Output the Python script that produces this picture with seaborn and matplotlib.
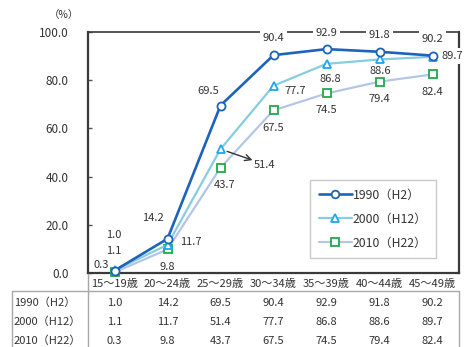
import numpy as np
import pandas as pd
import matplotlib
matplotlib.use("Agg")
import matplotlib.pyplot as plt
from matplotlib.lines import Line2D
from matplotlib.transforms import blended_transform_factory
import seaborn as sns

# Age groups and labour force participation rates (%)
ages = ["15〜19歳", "20〜24歳", "25〜29歳", "30〜34歳", "35〜39歳", "40〜44歳", "45〜49歳"]
series_names = ["1990（H2）", "2000（H12）", "2010（H22）"]
rate_1990 = [1.0, 14.2, 69.5, 90.4, 92.9, 91.8, 90.2]
rate_2000 = [1.1, 11.7, 51.4, 77.7, 86.8, 88.6, 89.7]
rate_2010 = [0.3, 9.8, 43.7, 67.5, 74.5, 79.4, 82.4]
y_ticks = [0, 20, 40, 60, 80, 100]

sns.set_theme(style="white")
plt.rcParams["font.family"] = ["Noto Sans CJK JP", "DejaVu Sans"]
TXT = "#333333"

fig = plt.figure(figsize=(4.67, 3.47), dpi=100)
ax = fig.add_axes([88 / 467, 1 - 273 / 347, (459 - 88) / 467, (273 - 32) / 347])

pos = np.arange(len(ages))
df = pd.DataFrame({
    "pos": np.tile(pos, 3),
    "rate": rate_1990 + rate_2000 + rate_2010,
    "year": np.repeat(series_names, len(ages)),
})

styles = {
    "1990（H2）": dict(color="#1d64b8", lw=1.9, marker="o", mec="#1d64b8", ms=5.8, zorder=6),
    "2000（H12）": dict(color="#86cde0", lw=1.6, marker="^", mec="#1fa6ee", ms=6.0, zorder=5),
    "2010（H22）": dict(color="#b4c6e6", lw=1.6, marker="s", mec="#22a84a", ms=5.5, zorder=4),
}
for name in series_names[::-1]:
    st = styles[name]
    sns.lineplot(data=df[df["year"] == name], x="pos", y="rate", ax=ax,
                 color=st["color"], linewidth=st["lw"], marker=st["marker"],
                 markersize=st["ms"], markerfacecolor="white",
                 markeredgecolor=st["mec"], markeredgewidth=1.3,
                 label=name, clip_on=False, zorder=st["zorder"], legend=False)

ax.set_xlim(-0.5, len(ages) - 0.5)
ax.set_ylim(0, 100)
ax.set_xlabel("")
ax.set_ylabel("")
ax.set_yticks(y_ticks)
ax.set_yticklabels([f"{v:.1f}" for v in y_ticks], fontsize=8.5, color=TXT)
ax.tick_params(axis="y", direction="in", length=3, width=1, color="#555555",
               pad=14, left=True)
ax.set_xticks(pos)
ax.set_xticklabels(ages, fontsize=8, color=TXT)
ax.tick_params(axis="x", length=0, pad=4)

for side, lw in [("left", 1.6), ("bottom", 1.6), ("top", 1.2), ("right", 1.6)]:
    ax.spines[side].set_visible(True)
    ax.spines[side].set_color("#3a3a3a")
    ax.spines[side].set_linewidth(lw)

fig.text(64 / 467, 1 - 15 / 347, "（%）", fontsize=7.5, color=TXT, ha="center", va="center")

# Value labels: offsets in pixels from each point
offs_1990 = [(-1, 36), (-15, 21), (-12, 15), (0, 17), (0, 16), (0, 17), (0, 17)]
offs_2000 = [(-1, 19), (23, 3), (44, -16), (22, -5), (4, -15), (1, -12), (20, 1)]
offs_2010 = [(-13, 7), (0, -18), (4, -17), (0, -18), (0, -17), (0, -17), (0, -18)]
boxed_1990 = [False, False, False, True, True, True, True]
callout_2000 = 2  # this label is tied to its point by an arrow

def put_label(x, v, off, boxed=False):
    kw = dict(textcoords="offset pixels", ha="center", va="center",
              fontsize=8, color=TXT, zorder=8)
    if boxed:
        kw["bbox"] = dict(boxstyle="square,pad=0.25", fc="white", ec="none")
    ax.annotate(f"{v:.1f}", xy=(x, v), xytext=off, **kw)

for i, v in enumerate(rate_1990):
    put_label(pos[i], v, offs_1990[i], boxed_1990[i])
for i, v in enumerate(rate_2000):
    put_label(pos[i], v, offs_2000[i], boxed=(i == len(ages) - 1))
    if i == callout_2000:
        ax.annotate("", xy=(pos[i], v), xytext=(32, -11),
                    textcoords="offset pixels", zorder=8,
                    arrowprops=dict(arrowstyle="<-", color="#333333", lw=1.0,
                                    shrinkA=0, shrinkB=5,
                                    mutation_scale=11))
for i, v in enumerate(rate_2010):
    put_label(pos[i], v, offs_2010[i])

# Legend
handles = [Line2D([], [], color=styles[n]["color"], lw=styles[n]["lw"],
                  marker=styles[n]["marker"], ms=5.5, mfc="white",
                  mec=styles[n]["mec"], mew=1.3) for n in series_names]
leg = ax.legend(handles, series_names, loc="upper left",
                bbox_to_anchor=((310 - 88) / 371, (273 - 180) / 241),
                fontsize=8.8, frameon=True, fancybox=False, shadow=False,
                handlelength=2.7, handletextpad=0.1, labelspacing=0.9,
                borderpad=0.7, borderaxespad=0)
leg.get_frame().set_edgecolor("#bdbdbd")
leg.get_frame().set_linewidth(1.0)
for t in leg.get_texts():
    t.set_color(TXT)
leg.set_zorder(9)

# Data table below the chart
tr = blended_transform_factory(ax.transData, fig.transFigure)
row_y = [1 - 303 / 347, 1 - 322 / 347, 1 - 341 / 347]
for name, vals, y in zip(series_names, [rate_1990, rate_2000, rate_2010], row_y):
    fig.text(14 / 467, y, name, fontsize=8, color=TXT, ha="left", va="center")
    for i, v in enumerate(vals):
        ax.text(pos[i], y, f"{v:.1f}", transform=tr, fontsize=8, color=TXT,
                ha="center", va="center", clip_on=False)

grid_c = "#a8a8a8"
def fig_line(x0, y0, x1, y1, c=grid_c, lw=1.0):
    fig.add_artist(Line2D([x0 / 467, x1 / 467], [1 - y0 / 347, 1 - y1 / 347],
                          color=c, lw=lw))

fig_line(12, 291, 459, 291)
fig_line(12, 291, 12, 347)
fig_line(88, 274, 88, 347)
fig_line(459, 291, 459, 347)

fig.savefig("out.png", dpi=100, facecolor="white")
